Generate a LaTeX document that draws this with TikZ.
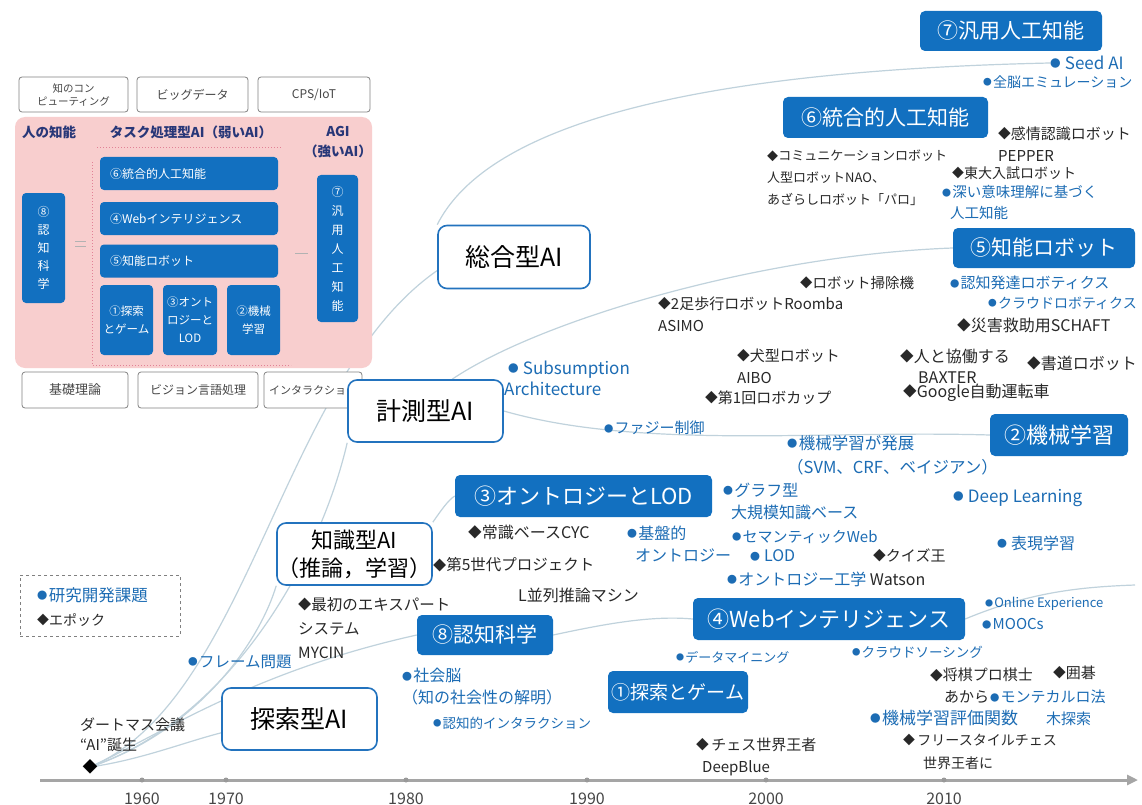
\documentclass[tikz,border=0pt]{standalone}
\usepackage{fontspec}
\setmainfont{Noto Sans CJK JP}
\usetikzlibrary{backgrounds,arrows.meta}
\definecolor{boxblue}{RGB}{18,112,192}
\definecolor{txtblue}{RGB}{28,108,180}
\definecolor{txtdark}{RGB}{40,40,40}
\definecolor{curvecol}{RGB}{192,210,220}
\definecolor{pinkbg}{RGB}{248,206,206}
\definecolor{pinkdot}{RGB}{225,130,150}
\definecolor{navy}{RGB}{40,55,120}
\definecolor{tborder}{RGB}{35,115,190}
\definecolor{gboxline}{RGB}{130,130,130}
\definecolor{gtext}{RGB}{70,70,70}
\definecolor{axiscol}{RGB}{165,165,165}
\newcommand\myfs[2]{\fontsize{#1}{#2}\selectfont}
\newcommand\bd{\raisebox{0.1em}{\scalebox{0.62}{●}}\hspace{0.08em}}
\newcommand\dm{\raisebox{0.05em}{\scalebox{0.85}{◆}}}
\begin{document}
\begin{tikzpicture}[x=1pt,y=-1pt,
  ann/.style={anchor=west, inner sep=0pt, align=left, text=txtdark, font=\myfs{15}{22}},
  annb/.style={ann, text=txtblue},
  bbox/.style={fill=boxblue, text=white, rounded corners=5pt, inner sep=0pt, font=\myfs{21}{24}},
  tbox/.style={draw=tborder, line width=1.6pt, fill=white, rounded corners=9pt, inner sep=0pt, font=\myfs{25}{30}, text=black, align=center},
  gbox/.style={draw=gboxline, line width=0.8pt, fill=white, rounded corners=3pt, inner sep=0pt, font=\myfs{12}{14}, text=gtext, align=center},
  pbox/.style={fill=boxblue, text=white, rounded corners=4pt, inner sep=0pt, font=\myfs{12}{18}, align=center},
  phead/.style={inner sep=0pt, text=navy, font=\myfs{13.5}{20}\bfseries, align=center},
  curve/.style={draw=curvecol, line width=1.2pt},
  tick/.style={circle, fill=gray!80, inner sep=0pt, minimum size=5pt},
  year/.style={inner sep=0pt, text=gtext, font=\myfs{16}{18}}
]
\useasboundingbox (0,0) rectangle (1142,805);

% ---------- left panel ----------
\node[gbox, minimum width=109pt, minimum height=35pt, font=\myfs{10.5}{13}] (g1) at (73.5,94.5) {知のコン\\ピューティング};
\node[gbox, minimum width=111pt, minimum height=35pt] (g2) at (192.5,94.5) {ビッグデータ};
\node[gbox, minimum width=112pt, minimum height=35pt] (g3) at (314,94.5) {CPS/IoT};

\node[fill=pinkbg, rounded corners=10pt, minimum width=357pt, minimum height=251pt, inner sep=0pt] (panel) at (193.5,242.5) {};
\node[phead] (h1) at (49,132) {人の知能};
\node[phead] (h2) at (191,132) {タスク処理型AI（弱いAI）};
\node[phead] (h3) at (338,142) {AGI\\（強いAI）};
\draw[pinkdot, dotted, line width=1pt] (97,148) -- (281,148);
\draw[pinkdot, dotted, line width=1pt] (92,162) -- (92,365) -- (291,365);
\draw[gray!60, line width=0.7pt] (75,241) -- (86,241) (75,246) -- (86,246);
\draw[gray!60, line width=0.7pt] (295,253) -- (308,253);

\node[pbox, minimum width=43pt, minimum height=110pt, font=\myfs{12}{18}] (p8) at (43.5,248) {⑧\\認\\知\\科\\学};
\node[pbox, minimum width=178pt, minimum height=33pt, text width=158pt, align=left] (p6) at (189,173.5) {⑥統合的人工知能};
\node[pbox, minimum width=178pt, minimum height=33pt, text width=158pt, align=left] (p4) at (189,218.5) {④Webインテリジェンス};
\node[pbox, minimum width=178pt, minimum height=33pt, text width=158pt, align=left] (p5) at (189,261) {⑤知能ロボット};
\node[pbox, minimum width=53pt, minimum height=70pt, font=\myfs{11.5}{18}] (p1) at (126.5,320) {①探索\\とゲーム};
\node[pbox, minimum width=54pt, minimum height=70pt, font=\myfs{11.5}{18}] (p3) at (190,320) {③オント\\ロジーと\\LOD};
\node[pbox, minimum width=53pt, minimum height=70pt, font=\myfs{11.5}{18}] (p2) at (253.5,320) {②機械\\学習};
\node[pbox, minimum width=41pt, minimum height=147pt, font=\myfs{12}{19}] (p7) at (337.5,248.5) {⑦\\汎\\用\\人\\工\\知\\能};

\node[gbox, minimum width=106pt, minimum height=36pt, font=\myfs{13}{15}] (g4) at (75,390) {基礎理論};
\node[gbox, minimum width=120pt, minimum height=36pt] (g5) at (198,390) {ビジョン言語処理};
\node[gbox, minimum width=98pt, minimum height=36pt, font=\myfs{11}{13}] (g6) at (313,390) {インタラクション};

% ---------- type boxes ----------
\node[tbox, minimum width=152pt, minimum height=63pt] (sogo) at (514,257) {総合型AI};
\node[tbox, minimum width=155pt, minimum height=62pt] (keisoku) at (425.5,411) {計測型AI};
\node[tbox, minimum width=155pt, minimum height=62pt, font=\myfs{22}{28}] (chishiki) at (354.5,554) {知識型AI\\（推論，学習）};
\node[tbox, minimum width=155pt, minimum height=62pt] (tansaku) at (299.5,719) {探索型AI};

% ---------- blue boxes ----------
\node[bbox, minimum width=182pt, minimum height=40pt] (kanyo) at (1011,31) {⑦汎用人工知能};
\node[bbox, minimum width=205pt, minimum height=41pt] (togo) at (885.5,117.5) {⑥統合的人工知能};
\node[bbox, minimum width=182pt, minimum height=40pt] (robot) at (1044,248) {⑤知能ロボット};
\node[bbox, minimum width=138pt, minimum height=42pt, font=\myfs{22}{24}] (kikai) at (1059,435) {②機械学習};
\node[bbox, minimum width=257pt, minimum height=42pt, font=\myfs{22}{24}] (onto) at (583.5,496) {③オントロジーとLOD};
\node[bbox, minimum width=272pt, minimum height=42pt, font=\myfs{22}{24}] (web) at (829,619) {④Webインテリジェンス};
\node[bbox, minimum width=136pt, minimum height=40pt] (ninchi) at (485,635) {⑧認知科学};
\node[bbox, minimum width=140pt, minimum height=42pt, font=\myfs{19}{22}] (tansa) at (678,692) {①探索とゲーム};

% ---------- annotations ----------
\node[annb, font=\myfs{17}{22}] (seed) at (1050,63) {\bd\,Seed AI};
\node[annb, font=\myfs{14}{22}] (zenno) at (983,82) {\bd 全脳エミュレーション};
\node[ann] (kanjo) at (998,144) {\dm 感情認識ロボット\\PEPPER};
\node[ann, font=\myfs{13}{22}] (comm) at (767,178) {\dm コミュニケーションロボット\\人型ロボットNAO、\\あざらしロボット「パロ」};
\node[ann, font=\myfs{14}{22}] (todai) at (952,173) {\dm 東大入試ロボット};
\node[annb, font=\myfs{14.5}{21}] (fukai) at (942,202.5) {\bd 深い意味理解に基づく\\\hspace{8pt}人工知能};
\node[ann, font=\myfs{14.5}{22}] (soji) at (800,283) {\dm ロボット掃除機};
\node[ann] (nisoku) at (658,314) {\dm 2足歩行ロボットRoomba\\ASIMO};
\node[annb] (hattatsu) at (950,283) {\bd 認知発達ロボティクス};
\node[annb, font=\myfs{14}{22}] (cloudrobo) at (988,303) {\bd クラウドロボティクス};
\node[ann, font=\myfs{16}{22}] (schaft) at (957,325) {\dm 災害救助用SCHAFT};
\node[ann] (inu) at (737,366.5) {\dm 犬型ロボット\\AIBO};
\node[ann] (robocup) at (705,398) {\dm 第1回ロボカップ};
\node[ann, font=\myfs{16}{21}] (baxter) at (900,366.5) {\dm 人と協働する\\\hspace{18pt}BAXTER};
\node[ann, font=\myfs{16}{22}] (shodo) at (1027,363) {\dm 書道ロボット};
\node[ann, font=\myfs{16}{22}] (google) at (903,393) {\dm Google自動運転車};
\node[annb, font=\myfs{17}{21}] (subsump) at (508,378) {\bd\,Subsumption\\\hspace{-4pt}Architecture};
\node[annb] (fuzzy) at (604,428) {\bd ファジー制御};
\node[annb, font=\myfs{16.5}{24}] (hatten) at (787,455) {\bd 機械学習が発展\\（SVM、CRF、ベイジアン）};
\node[annb, font=\myfs{16}{22}] (graph) at (723,501) {\bd グラフ型\\\hspace{8pt}大規模知識ベース};
\node[annb, font=\myfs{17}{22}] (deep) at (953,498) {\bd\,Deep Learning};
\node[ann, font=\myfs{16}{22}] (cyc) at (468,532) {\dm 常識ベースCYC};
\node[annb, font=\myfs{16}{22}] (kiban) at (627,544) {\bd 基盤的\\\hspace{8pt}オントロジー};
\node[annb] (semantic) at (732,537) {\bd セマンティックWeb};
\node[annb, font=\myfs{16}{22}] (lod) at (750,556) {\bd\,LOD};
\node[ann] (quiz) at (873,555) {\dm クイズ王};
\node[annb, font=\myfs{16}{22}] (hyogen) at (997,543) {\bd\,表現学習};
\node[ann, font=\myfs{15.5}{22}] (gosedai) at (433,565) {\dm 第5世代プロジェクト};
\node[annb, font=\myfs{16}{22}] (ontoko) at (727,579) {\bd オントロジー工学 \textcolor{txtdark}{Watson}};
\node[ann, font=\myfs{16}{22}] (heiretsu) at (518,595) {L並列推論マシン};
\node[ann, font=\myfs{15.5}{24}] (saisho) at (298,628) {\dm 最初のエキスパート\\システム\\MYCIN};
\node[annb, font=\myfs{13}{18}] (online) at (985,604) {\bd Online Experience};
\node[annb] (moocs) at (982,624) {\bd MOOCs};
\node[annb, font=\myfs{15.5}{22}] (frame) at (188,662) {\bd フレーム問題};
\node[annb, font=\myfs{16}{22}] (shakai) at (402,687) {\bd 社会脳\\（知の社会性の解明）};
\node[annb, font=\myfs{13.5}{22}] (ninter) at (433,723) {\bd 認知的インタラクション};
\node[ann, font=\myfs{15}{20}] (dart) at (80,735) {ダートマス会議\\“AI”誕生};
\node[annb, font=\myfs{13}{22}] (mining) at (676,657) {\bd データマイニング};
\node[annb, font=\myfs{13.5}{22}] (crowd) at (852,652) {\bd クラウドソーシング};
\node[ann] (shogi) at (930,686) {\dm 将棋プロ棋士\\\hspace{14pt}あから};
\node[ann] (igo) at (1053,673) {\dm 囲碁};
\node[annb] (monte) at (990,708) {\bd モンテカルロ法\\\hspace{56pt}木探索};
\node[annb, font=\myfs{17}{22}] (hyoka) at (870,718) {\bd 機械学習評価関数};
\node[ann] (chess) at (696,756.5) {\dm\,チェス世界王者\\\hspace{6pt}DeepBlue};
\node[ann, font=\myfs{14}{23}] (free) at (903,751.5) {\dm\,フリースタイルチェス\\\hspace{20pt}世界王者に};

% legend
\node[draw=gray, dashed, line width=0.8pt, minimum width=160pt, minimum height=61pt, inner sep=0pt] (legend) at (100,605.5) {};
\node[annb, font=\myfs{16.5}{22}] (leg1) at (37,595) {\bd 研究開発課題};
\node[ann, font=\myfs{14}{22}] (leg2) at (37,620) {\dm エポック};

% origin
\node[inner sep=0pt, font=\myfs{15}{18}, text=black] (origin) at (90,767) {◆};

% ---------- axis ----------
\coordinate (axs) at (40,780);
\coordinate (axe) at (1138,780);
\coordinate (webend) at (1135,585);
\draw[axiscol, line width=3pt, -{Triangle[length=11pt,width=10pt]}] (axs) -- (axe);
\node[tick] (t1) at (142,780) {};
\node[tick] (t2) at (226,780) {};
\node[tick] (t3) at (406,780) {};
\node[tick] (t4) at (587,780) {};
\node[tick] (t5) at (766,780) {};
\node[tick] (t6) at (944,780) {};
\node[year] (y1) at (142,799) {1960};
\node[year] (y2) at (226,799) {1970};
\node[year] (y3) at (406,799) {1980};
\node[year] (y4) at (587,799) {1990};
\node[year] (y5) at (766,799) {2000};
\node[year] (y6) at (944,799) {2010};

% ---------- curves ----------
\begin{scope}[on background layer]
\fill[white] (0,0) rectangle (1142,805);
\draw[curve] (origin.center) .. controls (140,760) and (185,742) .. (tansaku.190);
\draw[curve] (origin.center) .. controls (160,735) and (250,672) .. (ninchi.west);
\draw[curve] (ninchi.east) .. controls (600,625) and (650,615) .. (web.west);
\draw[curve] (web.east) .. controls (1030,592) and (1080,587) .. (webend);
\draw[curve] (origin.center) .. controls (200,730) and (260,640) .. (chishiki.south west);
\draw[curve] (origin.center) .. controls (230,720) and (320,560) .. (keisoku.south west);
\draw[curve] (origin.center) .. controls (250,700) and (280,380) .. (sogo.190);
\draw[curve] (sogo.north west) .. controls (480,140) and (640,72) .. (seed.west);
\draw[curve] (keisoku.50) .. controls (540,320) and (760,255) .. (robot.west);
\draw[curve] (keisoku.east) .. controls (640,450) and (820,430) .. (kikai.west);
\draw[curve] (chishiki.north east) .. controls (440,512) and (448,500) .. (onto.west);
\end{scope}
\end{tikzpicture}
\end{document}
